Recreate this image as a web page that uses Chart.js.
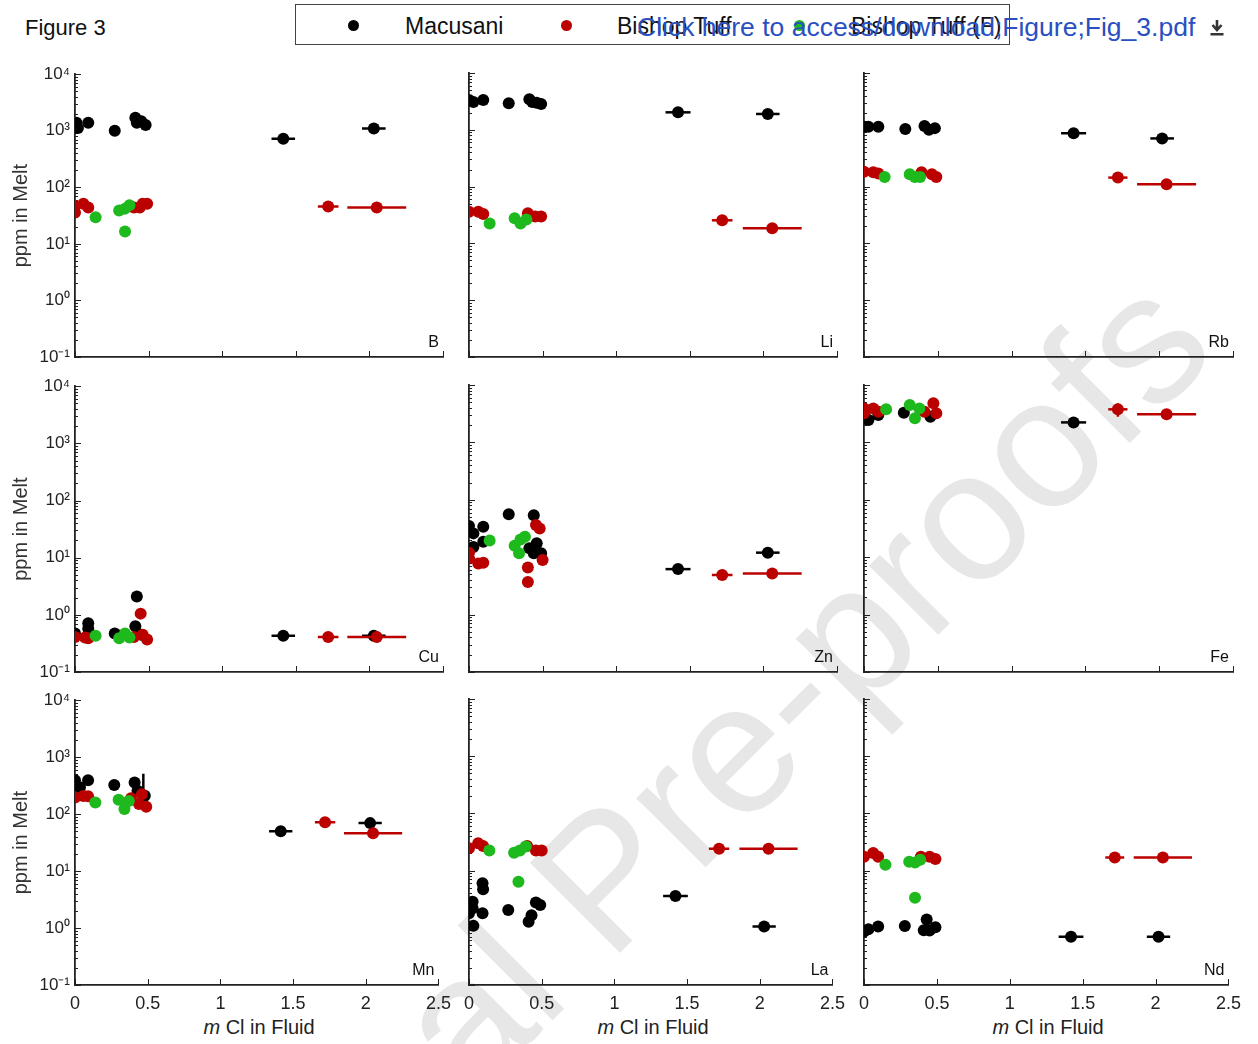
<!DOCTYPE html>
<html>
<head>
<meta charset="utf-8">
<script src="https://cdn.jsdelivr.net/npm/chart.js@4.4.1/dist/chart.umd.min.js"></script>
<style>
  body { margin: 0; background: #fff; font-family: "Liberation Sans", Arial, sans-serif; }
  #page { position: relative; width: 1258px; height: 1044px; overflow: hidden; }
  #wm { position: absolute; left: 637px; top: 846px; transform: translate(-50%, -50%) rotate(-45deg);
        font-size: 185px; color: #e7e7e7; white-space: nowrap; line-height: 1; }
  canvas { position: absolute; }
  .fig { position: absolute; left: 25px; top: 15px; font-size: 22px; color: #111; }
  #legend { position: absolute; left: 295px; top: 4px; width: 713px; height: 39px; border: 1.5px solid #444; }
  .dot { position: absolute; top: 15px; width: 11px; height: 11px; border-radius: 50%; }
  .lt { position: absolute; top: 8px; font-size: 23px; color: #111; white-space: nowrap; }
  #link { position: absolute; left: 637px; top: 12px; font-size: 26.5px; color: #2a4fc0; white-space: nowrap; }
  #dl { position: absolute; left: 1209px; top: 18px; }
  .xt { position: absolute; top: 1016px; transform: translateX(-50%); font-size: 20px; color: #222; white-space: nowrap; }
</style>
</head>
<body>
<div id="page">
  <div id="wm">Journal Pre-proofs</div>
  <div class="fig">Figure 3</div>
  <div id="legend"></div>
  <div id="link">Click here to access/download;Figure;Fig_3.pdf</div>
  <svg id="dl" width="16" height="20" viewBox="0 0 16 20">
    <path d="M8 2 V11 M3.5 7 L8 12 L12.5 7" stroke="#333" stroke-width="2.6" fill="none"/>
    <rect x="1.5" y="15" width="13" height="2.5" fill="#333"/>
  </svg>
  <div class="xt" style="left:259px"><i>m</i> Cl in Fluid</div>
  <div class="xt" style="left:653px"><i>m</i> Cl in Fluid</div>
  <div class="xt" style="left:1048px"><i>m</i> Cl in Fluid</div>
</div>
<script>
// [m Cl in fluid, ppm in melt, optional ± m Cl]
const bMac = [[0.01,1380],[0.02,1120],[0.09,1380],[0.27,1000],[0.41,1700],[0.42,1380],[0.45,1480],[0.48,1260],[1.415,725,0.08],[2.03,1100,0.08]];
const bBt = [[0.0,47],[0.0,36],[0.057,51],[0.09,44],[0.40,44],[0.44,44],[0.46,51],[0.49,51],[1.72,46,0.07],[2.05,44,0.2]];
const bBtf = [[0.14,29.7],[0.30,39],[0.34,42],[0.37,48],[0.34,16.6]];

const liMac = [[0.0,3340],[0.03,3100],[0.097,3340],[0.27,2930],[0.41,3440],[0.43,3100],[0.46,3000],[0.49,2850],[1.42,2030,0.085],[2.03,1900,0.08]];
const liBt = [[0.0,36],[0.063,36],[0.097,33],[0.40,34],[0.45,29.7],[0.49,29.7],[1.72,25.5,0.07],[2.06,18.5,0.2]];
const liBtf = [[0.14,22.4],[0.31,27.6],[0.35,22.4],[0.39,26.3]];

const rbMac = [[0.0,1130],[0.03,1130],[0.097,1130],[0.28,1030],[0.41,1170],[0.44,1000],[0.48,1070],[1.42,870,0.085],[2.02,705,0.08]];
const rbBt = [[0.0,182],[0.063,179],[0.097,170],[0.39,179],[0.46,165],[0.49,148],[1.72,144,0.065],[2.05,110,0.2]];
const rbBtf = [[0.14,148],[0.31,165],[0.345,148],[0.38,148]];

const cuMac = [[0.0,0.47],[0.09,0.71],[0.09,0.57],[0.27,0.47],[0.41,0.63],[0.42,2.1],[0.45,0.45],[1.415,0.43,0.08],[2.03,0.43,0.08]];
const cuBt = [[0.0,0.41],[0.068,0.40],[0.09,0.39],[0.40,0.41],[0.446,1.05],[0.46,0.45],[0.49,0.37],[1.72,0.41,0.07],[2.05,0.41,0.2]];
const cuBtf = [[0.14,0.43],[0.30,0.39],[0.34,0.47],[0.37,0.40]];

const znMac = [[0.0,35],[0.03,26],[0.03,15],[0.097,34],[0.097,18.6],[0.27,56],[0.44,54],[0.46,17.5],[0.41,14.3],[0.44,11.7],[0.49,11.7],[1.42,6.2,0.085],[2.03,12,0.08]];
const znBt = [[0.0,12],[0.0,9.5],[0.063,7.8],[0.097,8],[0.455,36.5],[0.48,31.6],[0.50,8.9],[0.40,6.6],[0.40,3.7],[1.72,4.9,0.07],[2.06,5.2,0.2]];
const znBtf = [[0.14,19.5],[0.31,15.9],[0.35,20.4],[0.38,22.8],[0.34,11.7]];

const feMac = [[0.01,2700],[0.03,2460],[0.097,3000],[0.27,3300],[0.45,2800],[1.42,2230,0.085]];
const feBt = [[0.0,3900],[0.0,3220],[0.063,3900],[0.097,3430],[0.47,4800],[0.49,3220],[0.41,3430],[1.72,3770,0.065],[2.05,3090,0.2]];
const feBtf = [[0.15,3770],[0.31,4480],[0.345,2630],[0.375,3900]];

const mnMac = [[0.0,395],[0.034,295],[0.09,395],[0.27,325],[0.41,360],[0.43,257],[0.48,210],[1.415,50,0.08],[2.03,69.5,0.08]];
const mnBt = [[0.0,196],[0.057,209],[0.09,205],[0.385,190],[0.46,224],[0.44,150],[0.49,135],[1.72,72,0.07],[2.05,46,0.2]];
const mnBtf = [[0.14,160],[0.30,178],[0.34,123],[0.37,170]];

const laMac = [[0.0,1.8],[0.025,2.86],[0.025,2.2],[0.03,1.09],[0.093,6.0],[0.097,4.7],[0.093,1.8],[0.27,2.04],[0.41,1.28],[0.43,1.66],[0.46,2.76],[0.49,2.5],[1.42,3.6,0.085],[2.03,1.05,0.08]];
const laBt = [[0.0,24.5],[0.063,30],[0.097,27],[0.40,27],[0.46,22.4],[0.50,22.4],[1.72,24,0.07],[2.06,24,0.2]];
const laBtf = [[0.14,22.4],[0.31,20.5],[0.35,22.4],[0.39,26.3],[0.34,6.4]];

const ndMac = [[0.0,0.86],[0.03,0.94],[0.097,1.05],[0.28,1.08],[0.43,1.4],[0.41,0.91],[0.45,0.9],[0.49,1.02],[1.42,0.7,0.085],[2.02,0.7,0.08]];
const ndBt = [[0.0,17.5],[0.063,20.4],[0.097,17.5],[0.39,17.5],[0.45,17.5],[0.49,15.9],[1.72,17,0.065],[2.05,17,0.2]];
const ndBtf = [[0.147,12.6],[0.31,14.3],[0.35,13.8],[0.386,15.5],[0.35,3.36]];

// vertical error bars: [m Cl, low ppm, high ppm]
const cuMacV = [[0.09,0.5,0.85]];
const mnMacV = [[0.47,195,510]];
const feBtV = [[1.72,2800,4800]];

const elements = ['B','Li','Rb','Cu','Zn','Fe','Mn','La','Nd'];
const seriesNames = ['Macusani','Bishop Tuff','Bishop Tuff (F)'];
const xTickVals = [0, 0.5, 1, 1.5, 2, 2.5];
const xTickLabels = ['0','0.5','1','1.5','2','2.5'];
const yTickVals = [0.1, 1, 10, 100, 1000, 10000];
const yTickLabels = ['10\u207B\u00B9','10\u2070','10\u00B9','10\u00B2','10\u00B3','10\u2074'];

const BLACK = '#000000', RED = '#bb0000', GREEN = '#1db91d', AXIS = '#222';
const colors = [BLACK, RED, GREEN];

const panels = [
  [bMac, bBt, bBtf, [], []], [liMac, liBt, liBtf, [], []], [rbMac, rbBt, rbBtf, [], []],
  [cuMac, cuBt, cuBtf, cuMacV, []], [znMac, znBt, znBtf, [], []], [feMac, feBt, feBtf, [], feBtV],
  [mnMac, mnBt, mnBtf, mnMacV, []], [laMac, laBt, laBtf, [], []], [ndMac, ndBt, ndBtf, [], []]
];

// legend across the top
const legend = document.getElementById('legend');
[[57, 109], [270, 321], [503, 555]].forEach(([d, t], i) => {
  legend.insertAdjacentHTML('beforeend',
    `<div class="dot" style="left:${d - 5}px;background:${colors[i]}"></div><div class="lt" style="left:${t}px">${seriesNames[i]}</div>`);
});

Chart.defaults.font.family = '"Liberation Sans", Arial, sans-serif';

// inward tick marks and the element name in the lower right corner
const frame = {
  id: 'frame',
  beforeDatasetsDraw(chart, args, opts) {
    const { ctx, chartArea: a, scales: { x, y } } = chart;
    ctx.save();
    ctx.strokeStyle = AXIS;
    ctx.lineWidth = 1;
    ctx.beginPath();
    for (let d = -1; d <= 4; d++) {
      for (let k = 1; k < 10; k++) {
        const v = k * Math.pow(10, d);
        if (v > 10000) break;
        const py = Math.round(y.getPixelForValue(v)) + 0.5;
        ctx.moveTo(a.left, py);
        ctx.lineTo(a.left + (k === 1 ? 6 : 3), py);
      }
    }
    xTickVals.forEach(v => {
      const px = Math.round(x.getPixelForValue(v)) + 0.5;
      ctx.moveTo(px, a.bottom);
      ctx.lineTo(px, a.bottom - 6);
    });
    ctx.stroke();
    ctx.fillStyle = '#111';
    ctx.font = '16px "Liberation Sans", Arial, sans-serif';
    ctx.textAlign = 'right';
    ctx.textBaseline = 'alphabetic';
    ctx.fillText(opts.label, a.right - 4, a.bottom - 10);
    ctx.restore();
  }
};

const colLeft = [75, 469, 864];
const colWidth = [368, 368, 369];
const rowTop = [73, 385, 699];
const rowHeight = [284, 287, 286];
const L = 70, T = 14, R = 16, B = 40;

const page = document.getElementById('page');

panels.forEach((p, i) => {
  const col = i % 3, row = Math.floor(i / 3);
  const cv = document.createElement('canvas');
  cv.width = colWidth[col] + L + R;
  cv.height = rowHeight[row] + T + B;
  cv.style.left = (colLeft[col] - L) + 'px';
  cv.style.top = (rowTop[row] - T) + 'px';
  page.appendChild(cv);

  const [mac, bt, btf, macV, btV] = p;
  const datasets = [];
  const addSeries = (pts, vbars, color) => {
    datasets.push({
      data: pts.map(q => ({ x: q[0], y: q[1] })),
      backgroundColor: color, borderColor: color, borderWidth: 0, pointRadius: 6
    });
    pts.filter(q => q[2]).forEach(([x, y, e]) => datasets.push({
      data: [{ x: x - e, y }, { x: x + e, y }],
      showLine: true, borderColor: color, borderWidth: 2.5, pointRadius: 0
    }));
    vbars.forEach(([x, lo, hi]) => datasets.push({
      data: [{ x, y: lo }, { x, y: hi }],
      showLine: true, borderColor: color, borderWidth: 2.5, pointRadius: 0
    }));
  };
  // later series sit on top
  addSeries(btf, [], GREEN);
  addSeries(bt, btV, RED);
  addSeries(mac, macV, BLACK);

  new Chart(cv.getContext('2d'), {
    type: 'scatter',
    data: { datasets },
    plugins: [frame],
    options: {
      responsive: false, animation: false, events: [],
      layout: { padding: { top: T, right: R, left: 0, bottom: 0 } },
      plugins: { legend: { display: false }, tooltip: { enabled: false }, frame: { label: elements[i] } },
      scales: {
        x: {
          type: 'linear', min: 0, max: 2.5,
          grid: { display: false, drawTicks: false },
          border: { display: true, color: AXIS, width: 1.8 },
          afterBuildTicks: s => { s.ticks = xTickVals.map(v => ({ value: v })); },
          ticks: {
            display: row === 2, padding: 8, color: '#222', font: { size: 18 }, maxRotation: 0, autoSkip: false,
            callback: v => xTickLabels[xTickVals.indexOf(v)]
          },
          afterFit: s => { s.height = B; }
        },
        y: {
          type: 'logarithmic', min: 0.1, max: 10000,
          grid: { display: false, drawTicks: false },
          border: { display: true, color: AXIS, width: 1.8 },
          afterBuildTicks: s => { s.ticks = yTickVals.map(v => ({ value: v })); },
          ticks: {
            display: col === 0, autoSkip: false, padding: 5, color: '#222', font: { size: 17 },
            callback: v => yTickLabels[yTickVals.indexOf(v)]
          },
          title: { display: col === 0, text: 'ppm in Melt', color: '#333', font: { size: 20 }, padding: { top: 4, bottom: 0 } },
          afterFit: s => { s.width = L; }
        }
      }
    }
  });
});
</script>
</body>
</html>
